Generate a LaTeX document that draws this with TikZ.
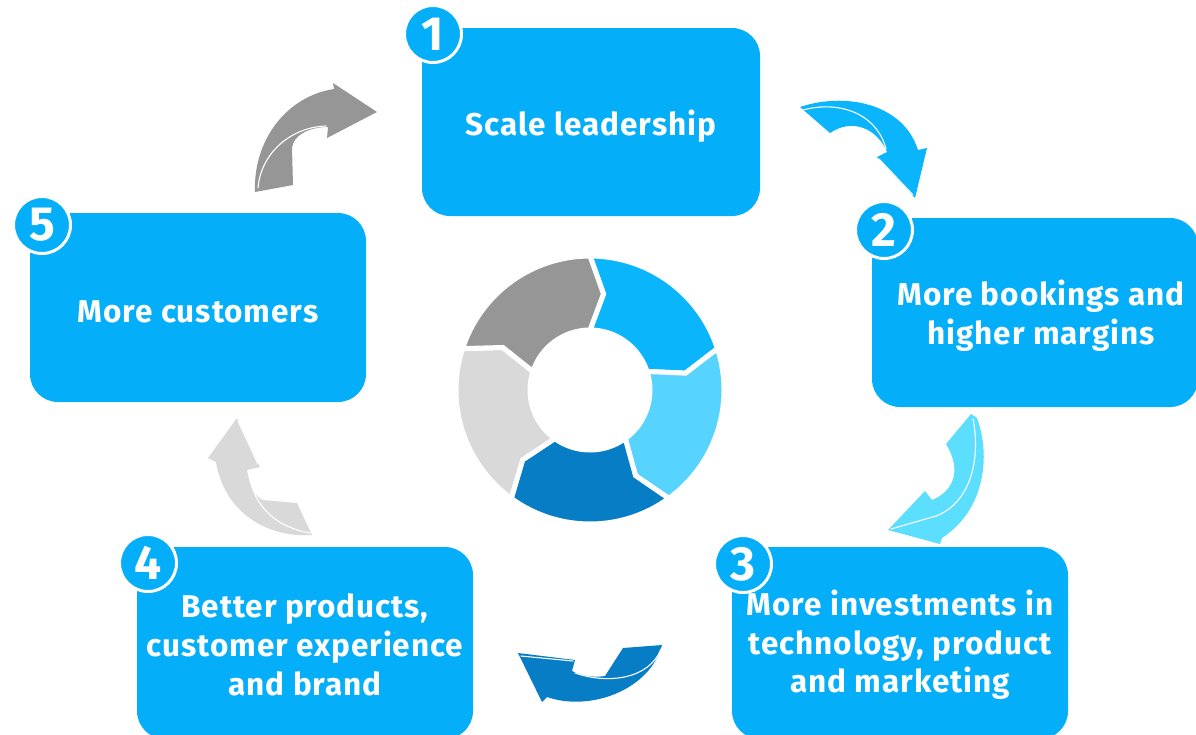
\documentclass[tikz,border=0pt]{standalone}
\usepackage{fontspec}
\setmainfont{Fira Sans}
\newfontfamily\stagefont[LetterSpace=3]{Fira Sans}
\definecolor{boxblue}{HTML}{04AEF8}
\definecolor{segblue}{HTML}{0BB5FC}
\definecolor{seglight}{HTML}{57D4FD}
\definecolor{segdark}{HTML}{077DC6}
\definecolor{segpale}{HTML}{D9D9D9}
\definecolor{seggray}{HTML}{969696}
\definecolor{arrlight}{HTML}{5CDEFF}
\begin{document}
\begin{tikzpicture}[x=1pt,y=-1pt,
  stagebox/.style={draw=none, fill=boxblue, rounded corners=28pt, inner sep=0pt},
  numbadge/.style={circle, fill=boxblue, draw=white, line width=3pt, minimum size=57pt,
    inner sep=0pt, text=white, font=\fontsize{48}{48}\selectfont\bfseries},
  stagetext/.style={text=white, align=center, inner sep=0pt,
    font=\stagefont\fontsize{31.5}{38.7}\selectfont\bfseries},
  shine/.style={draw=white, line width=1.1pt, line cap=round}]
\useasboundingbox (0,0) rectangle (1196,734);
\clip (0,0) rectangle (1196,734);

% stage boxes
\node[stagebox, minimum width=338pt, minimum height=188pt] (b1) at (591,122) {};
\node[stagebox, minimum width=326pt, minimum height=189pt] (b2) at (1035,312.5) {};
\node[stagebox, minimum width=336pt, minimum height=192pt] (b3) at (900,643) {};
\node[stagebox, minimum width=336pt, minimum height=192pt] (b4) at (305,643) {};
\node[stagebox, minimum width=336pt, minimum height=189pt] (b5) at (198,307.5) {};

% stage texts
\node[stagetext] (t1) at (591,126) {Scale leadership};
\node[stagetext] (t2) at (1041,316) {More bookings and\\higher margins};
\node[stagetext] (t3) at (900,645) {More investments in\\technology, product\\and marketing};
\node[stagetext] (t4) at (305,645) {Better products,\\customer experience\\and brand};
\node[stagetext] (t5) at (198,312) {More customers};

% number badges
\node[numbadge] (n1) at (433,34) {1};
\node[numbadge] (n2) at (884,230) {2};
\node[numbadge] (n3) at (743,564) {3};
\node[numbadge] (n4) at (148,563) {4};
\node[numbadge] (n5) at (42,225) {5};

% curved arrows between the stages
% 5 -> 1
\fill[seggray] (255,192) .. controls (253,140) and (287,96) .. (334,89) -- (333,83) -- (377,112)
  -- (327,138) -- (328,127) .. controls (308,127) and (293,136) .. (292,148) -- (293,185) -- cycle;
\draw[shine] (258,188) .. controls (261,152) and (292,127) .. (326,126);
% 1 -> 2
\fill[segblue] (800,107) .. controls (845,92) and (903,103) .. (918,150) -- (927,148) -- (915,198)
  -- (877,157) -- (887,152) .. controls (877,128) and (852,118) .. (830,133) -- cycle;
\draw[shine] (803,110) .. controls (840,100) and (877,114) .. (886,149);
\draw[shine] (879,159) -- (913,195);
% 2 -> 3
\fill[arrlight] (946,444) -- (971,414) -- (977,418) .. controls (991,456) and (985,510) .. (942,538)
  -- (940,544) -- (888,530) -- (925,491) -- (932,500) .. controls (952,492) and (963,472) .. (946,444) -- cycle;
\draw[shine] (973,419) .. controls (981,460) and (970,503) .. (936,516) -- (891,529);
% 3 -> 4
\fill[segdark] (662,645) -- (623,648) -- (605,676) .. controls (592,678) and (580,675) .. (572,671)
  -- (575,660) -- (518,653) -- (542,702) -- (547,697) .. controls (590,712) and (650,690) .. (662,645) -- cycle;
\draw[shine] (521,656) -- (573,661);
\draw[shine] (575,673) .. controls (610,685) and (650,678) .. (661,649);
% 4 -> 5
\fill[segpale] (297,503) -- (312,535) .. controls (270,538) and (225,515) .. (216,462) -- (208,458)
  -- (237,418) -- (260,467) -- (247,470) .. controls (250,487) and (255,497) .. (263,500) -- cycle;
\draw[shine] (238,421) -- (258,464);
\draw[shine] (249,473) .. controls (252,500) and (270,526) .. (310,533);

% central cycle ring
\begin{scope}[shift={(590,390)}, y=1pt]
  \foreach \a/\col in {90/segblue, 18/seglight, -54/segdark, -126/segpale, -198/seggray}{
    \pgfmathsetmacro{\b}{\a-72}
    \pgfmathsetmacro{\ap}{\a-8}
    \pgfmathsetmacro{\bp}{\b-8}
    \filldraw[fill=\col, draw=white, line width=5pt, line join=miter]
      (\a:134) arc[start angle=\a, end angle=\b, radius=134]
      -- (\bp:97) -- (\b:60)
      arc[start angle=\b, end angle=\a, radius=60]
      -- (\ap:97) -- cycle;
  }
\end{scope}
\end{tikzpicture}
\end{document}
